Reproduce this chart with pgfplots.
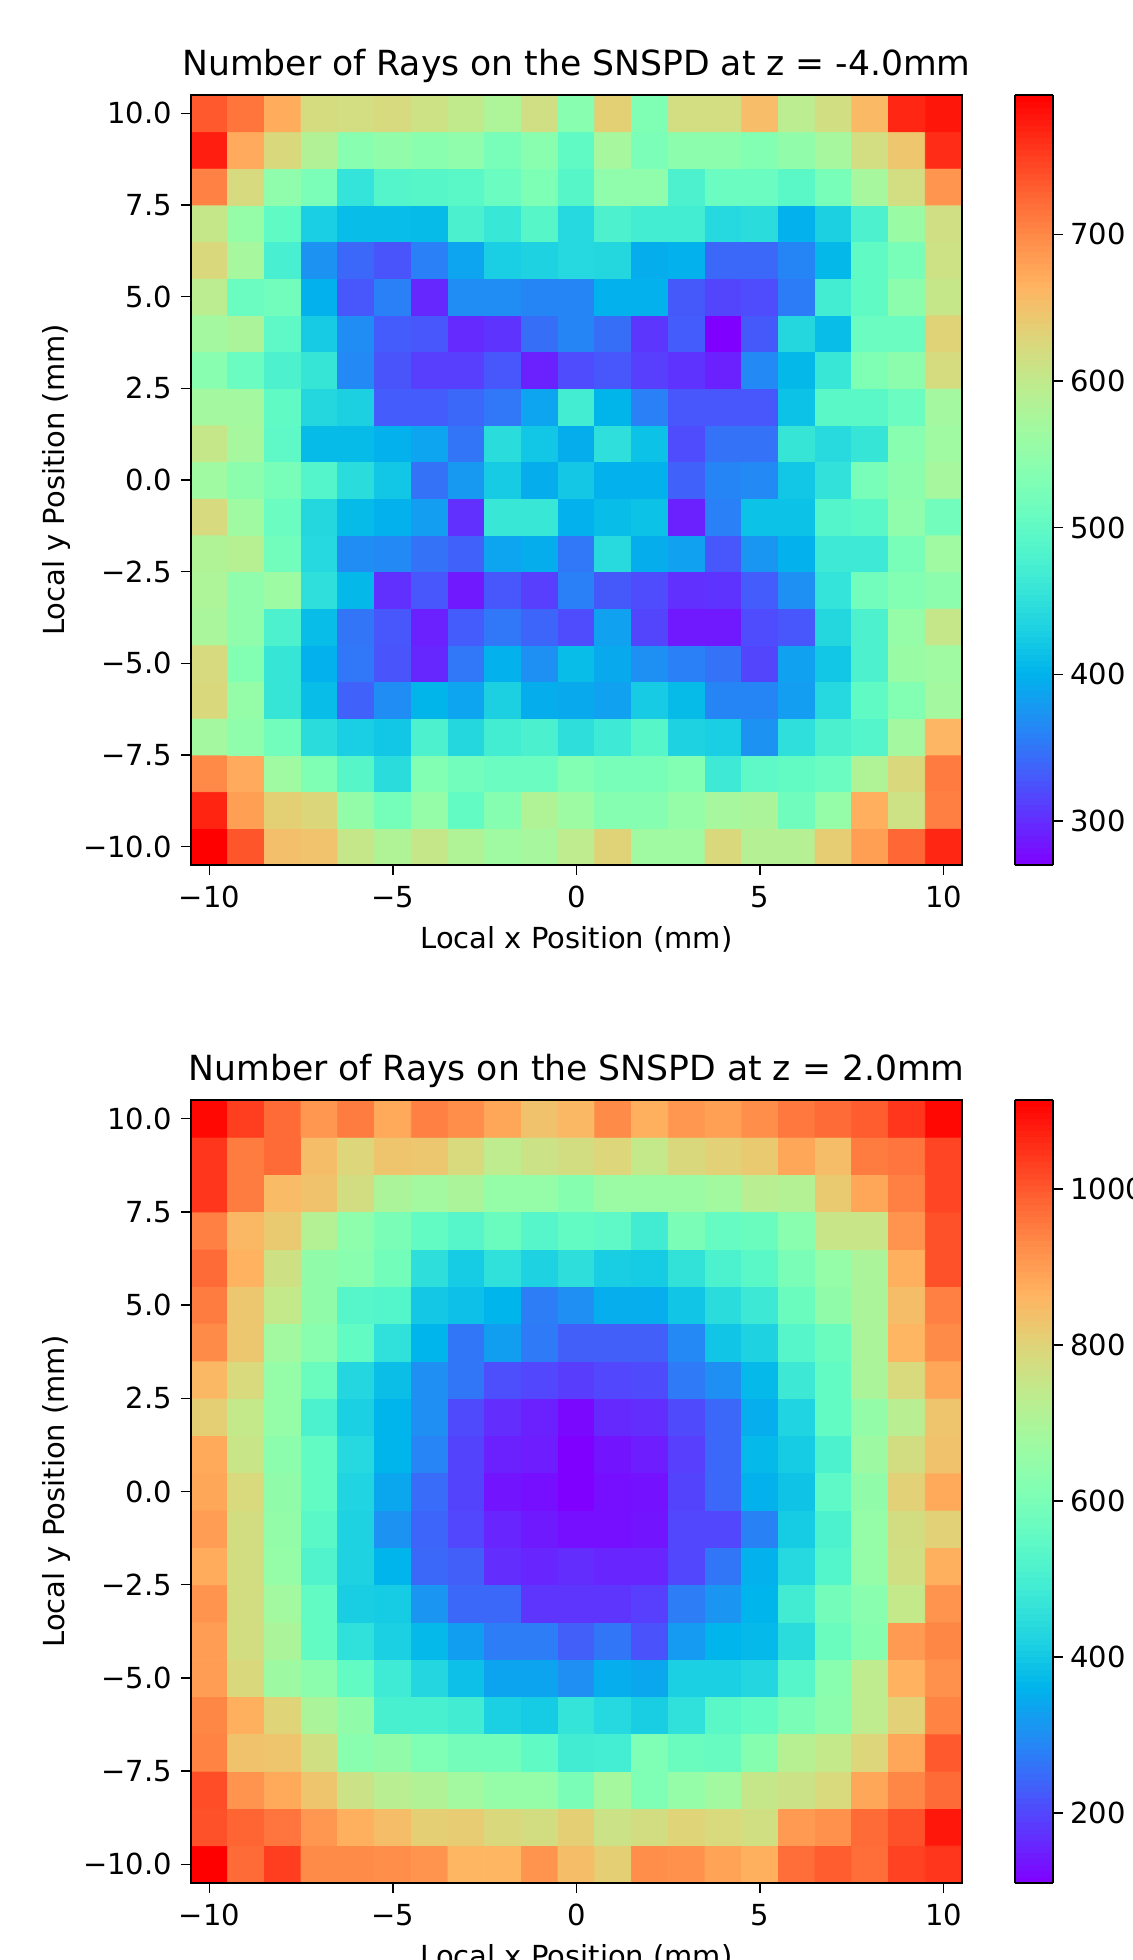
\documentclass[border=0pt]{standalone}
\usepackage{fontspec}
\setmainfont{DejaVu Sans}
\usepackage{pgfplots}
\pgfplotsset{compat=1.18}
\pgfplotsset{
  colormap={rb}{rgb=(.5,0,1) rgb=(.375,.195,.995) rgb=(.25,.383,.981) rgb=(.125,.556,.957) rgb=(0,.707,.924) rgb=(.125,.831,.882) rgb=(.25,.924,.831) rgb=(.375,.981,.773) rgb=(.5,1,.707) rgb=(.625,.981,.634) rgb=(.75,.924,.556) rgb=(.875,.831,.471) rgb=(1,.707,.383) rgb=(1,.556,.29) rgb=(1,.383,.195) rgb=(1,.195,.098) rgb=(1,0,0)},
  heat/.style={
    scale only axis, width=385.5pt, anchor=south west,
    xmin=-10.5, xmax=10.5, ymin=-10.5, ymax=10.5,
    axis line style={line width=0.9pt}, enlargelimits=false, axis on top,
    tick align=outside, tick pos=left, major tick length=5pt,
    tick style={line width=0.7pt, black},
    xtick={-10,-5,0,5,10}, xticklabels={−10,−5,0,5,10},
    ytick={-10,-7.5,-5,-2.5,0,2.5,5,7.5,10},
    yticklabels={−10.0,−7.5,−5.0,−2.5,0.0,2.5,5.0,7.5,10.0},
    tick label style={font=\fontsize{14.5pt}{16pt}\selectfont},
    xticklabel style={yshift=-2pt},
    yticklabel style={xshift=-1pt},
    label style={font=\fontsize{14.5pt}{16pt}\selectfont},
    title style={font=\fontsize{17.3pt}{20pt}\selectfont, yshift=-3.5pt},
    xlabel={Local x Position (mm)}, ylabel={Local y Position (mm)},
    ylabel style={at={(axis description cs:-0.175,0.5)},anchor=center},
    colormap name=rb, colorbar sampled,
  },
  cb/.style={at={(parent axis.north east)}, anchor=north west, xshift=18pt, width=19pt,
    samples=129, enlargelimits=false, ytick pos=right,
    tick align=outside, major tick length=5pt, tick style={line width=0.7pt,black},
    axis line style={line width=0.9pt},
    yticklabel style={xshift=0pt},
    tick label style={font=\fontsize{14.5pt}{16pt}\selectfont}},
}
\begin{document}
\begin{tikzpicture}
\path[use as bounding box, clip] (0,0) rectangle (566.5pt,980pt);
\begin{axis}[heat, at={(95.5pt,547.5pt)}, height=385pt,
  title={Number of Rays on the SNSPD at z = -4.0mm},
  xlabel style={at={(axis description cs:0.5,-0.096)},anchor=center},
  point meta min=270, point meta max=795,
  colorbar style={cb, ytick={300,400,500,600,700}, yticklabels={300,400,500,600,700}}]
\addplot[matrix plot*, mesh/cols=21, point meta=explicit] table[row sep=crcr, header=false,
  x expr={mod(\coordindex,21)-10}, y expr={floor((\coordindex+0.5)/21)-10}, meta index=0] {%
795\\738\\652\\648\\605\\582\\605\\582\\565\\572\\598\\632\\565\\565\\625\\588\\588\\638\\682\\725\\770\\%
772\\682\\635\\628\\552\\522\\555\\502\\538\\582\\562\\538\\538\\555\\572\\578\\515\\555\\668\\612\\708\\%
700\\672\\565\\532\\490\\445\\535\\518\\510\\510\\535\\525\\525\\535\\465\\498\\502\\510\\582\\625\\710\\%
570\\548\\518\\445\\428\\420\\480\\438\\470\\478\\448\\465\\490\\432\\428\\372\\450\\478\\488\\570\\662\\%
625\\555\\458\\410\\335\\368\\402\\388\\430\\395\\392\\385\\425\\408\\362\\362\\382\\440\\500\\535\\570\\%
622\\535\\458\\398\\352\\326\\296\\352\\398\\370\\410\\392\\370\\358\\348\\316\\385\\420\\480\\560\\565\\%
575\\548\\480\\410\\350\\328\\291\\332\\352\\338\\321\\385\\316\\286\\286\\321\\328\\438\\480\\555\\605\\%
580\\548\\562\\450\\405\\301\\328\\286\\328\\311\\358\\330\\321\\301\\304\\332\\370\\455\\518\\535\\545\\%
582\\590\\518\\440\\368\\365\\348\\335\\388\\395\\352\\442\\395\\385\\328\\375\\398\\465\\465\\525\\565\\%
622\\565\\510\\438\\408\\398\\382\\301\\460\\460\\398\\410\\415\\291\\358\\415\\415\\488\\495\\548\\518\\%
565\\545\\525\\488\\445\\420\\348\\378\\425\\395\\422\\398\\398\\335\\362\\365\\420\\452\\525\\545\\572\\%
605\\572\\498\\408\\408\\398\\388\\350\\445\\420\\395\\450\\415\\321\\348\\348\\458\\442\\458\\540\\565\\%
570\\570\\500\\438\\430\\332\\332\\340\\352\\388\\470\\402\\358\\328\\328\\328\\415\\495\\495\\510\\570\\%
540\\510\\480\\458\\365\\326\\311\\311\\328\\291\\321\\328\\311\\304\\291\\365\\405\\460\\532\\545\\620\\%
570\\578\\498\\425\\368\\332\\328\\298\\304\\345\\362\\345\\306\\332\\270\\330\\438\\410\\510\\510\\632\\%
595\\510\\518\\398\\328\\358\\296\\368\\368\\362\\362\\398\\398\\330\\316\\321\\355\\470\\500\\545\\605\\%
625\\572\\475\\372\\340\\326\\358\\388\\428\\432\\440\\438\\395\\398\\340\\340\\362\\405\\500\\525\\612\\%
605\\555\\500\\428\\410\\410\\408\\478\\460\\490\\440\\480\\470\\470\\440\\445\\398\\430\\480\\560\\615\\%
705\\622\\548\\528\\455\\488\\490\\495\\510\\530\\490\\548\\548\\480\\510\\510\\495\\525\\572\\618\\690\\%
775\\672\\625\\585\\540\\550\\542\\548\\525\\542\\500\\572\\528\\545\\545\\535\\550\\572\\618\\645\\765\\%
735\\715\\670\\620\\618\\622\\612\\600\\580\\615\\540\\635\\532\\618\\618\\655\\595\\616\\658\\770\\780\\%
};
\end{axis}
\begin{axis}[heat, at={(95.5pt,38.5pt)}, height=391.5pt,
  title={Number of Rays on the SNSPD at z = 2.0mm},
  xlabel style={at={(axis description cs:0.5,-0.0945)},anchor=center},
  point meta min=110, point meta max=1114,
  colorbar style={cb, ytick={200,400,600,800,1000}, yticklabels={200,400,600,800,1000}}]
\addplot[matrix plot*, mesh/cols=21, point meta=explicit] table[row sep=crcr, header=false,
  x expr={mod(\coordindex,21)-10}, y expr={floor((\coordindex+0.5)/21)-10}, meta index=0] {%
1114\\975\\1035\\930\\930\\925\\915\\860\\860\\915\\845\\810\\925\\920\\890\\870\\970\\995\\970\\1030\\1045\\%
1010\\985\\960\\910\\870\\845\\810\\815\\790\\775\\810\\760\\775\\800\\785\\770\\905\\920\\975\\1010\\1085\\%
1015\\915\\880\\830\\760\\725\\710\\680\\655\\655\\600\\685\\610\\655\\680\\750\\760\\785\\885\\935\\975\\%
940\\835\\830\\770\\630\\645\\610\\590\\585\\550\\490\\495\\610\\570\\565\\625\\720\\745\\795\\885\\1000\\%
935\\870\\800\\700\\645\\505\\505\\490\\415\\405\\465\\435\\410\\455\\540\\555\\600\\635\\735\\805\\940\\%
900\\790\\670\\635\\555\\485\\430\\385\\335\\335\\300\\350\\340\\415\\415\\430\\530\\630\\735\\865\\920\\%
900\\775\\700\\555\\455\\415\\370\\325\\275\\275\\232\\265\\215\\320\\360\\370\\445\\570\\625\\905\\935\\%
915\\775\\680\\555\\410\\405\\310\\245\\245\\177\\177\\177\\190\\275\\310\\360\\490\\590\\630\\745\\915\\%
875\\775\\655\\520\\420\\360\\245\\232\\167\\157\\167\\157\\157\\200\\265\\355\\435\\525\\655\\770\\870\\%
900\\775\\650\\540\\420\\305\\240\\200\\157\\142\\128\\128\\135\\200\\200\\280\\405\\510\\655\\775\\805\\%
885\\785\\645\\555\\425\\340\\250\\195\\135\\128\\110\\128\\132\\195\\245\\355\\390\\545\\645\\805\\880\\%
880\\755\\635\\555\\435\\360\\285\\195\\152\\147\\110\\135\\147\\190\\245\\370\\405\\510\\670\\775\\835\\%
810\\745\\655\\510\\415\\360\\300\\205\\167\\152\\120\\162\\167\\205\\245\\350\\425\\555\\650\\725\\830\\%
855\\785\\655\\570\\430\\380\\300\\265\\210\\200\\187\\200\\205\\270\\300\\370\\480\\555\\700\\785\\885\\%
930\\825\\680\\630\\555\\455\\360\\265\\325\\270\\232\\232\\232\\290\\395\\420\\530\\570\\700\\860\\930\\%
950\\825\\745\\645\\530\\525\\400\\385\\360\\275\\300\\350\\350\\395\\445\\480\\570\\645\\700\\845\\945\\%
975\\865\\765\\645\\630\\585\\450\\405\\455\\420\\450\\410\\405\\460\\510\\540\\600\\655\\700\\870\\1010\\%
945\\855\\820\\715\\640\\600\\555\\530\\570\\530\\555\\545\\490\\600\\560\\570\\630\\755\\755\\915\\1010\\%
1045\\950\\850\\835\\775\\700\\680\\700\\655\\655\\625\\665\\665\\665\\680\\725\\715\\820\\885\\945\\1025\\%
1045\\950\\975\\845\\795\\830\\825\\785\\737\\760\\775\\795\\745\\790\\805\\820\\885\\845\\950\\960\\1025\\%
1105\\1035\\975\\910\\950\\880\\945\\925\\885\\835\\855\\930\\870\\910\\895\\925\\955\\975\\995\\1045\\1105\\%
};
\end{axis}
\end{tikzpicture}
\end{document}
